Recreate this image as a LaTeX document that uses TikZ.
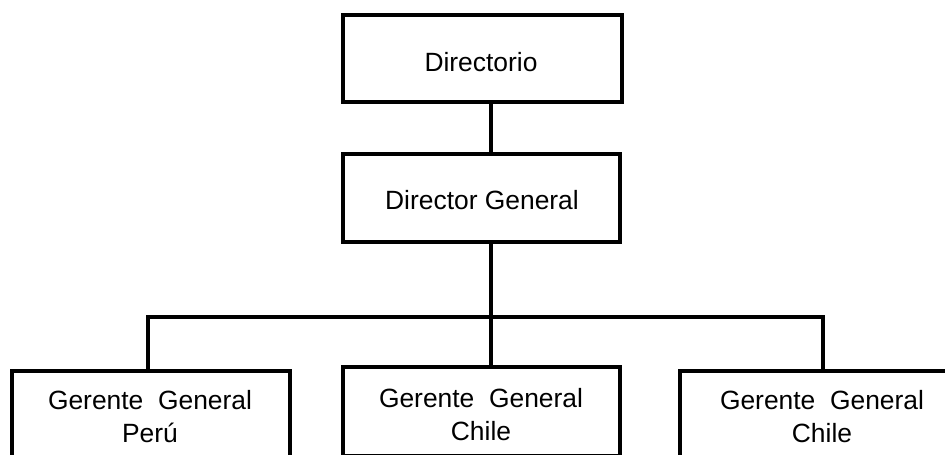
\documentclass[tikz,border=0pt]{standalone}
\usepackage{fontspec}
\setmainfont{Liberation Sans}

\begin{document}
\begin{tikzpicture}[x=1pt,y=-1pt,
  box/.style={draw, line width=3.2pt, rectangle, inner sep=0pt, outer sep=0pt},
  link/.style={draw, line width=3.2pt, line join=miter},
  boxtext/.style={font=\fontsize{26.4}{33}\selectfont, align=center, inner sep=0pt}]
  \useasboundingbox (0,0) rectangle (945,455);
  \clip (0,0) rectangle (945,455);
  % boxes
  \node[box, minimum width=279, minimum height=87] (dir) at (482.5,58.5) {};
  \node[box, minimum width=277, minimum height=88] (dg) at (481.5,198) {};
  \node[box, minimum width=278, minimum height=109] (gp) at (151,425.5) {};
  \node[box, minimum width=277, minimum height=89] (gm) at (481.5,411.5) {};
  \node[box, minimum width=280, minimum height=109] (gr) at (820,425.5) {};
  % texts
  \node[boxtext, anchor=base] (dirt) at (481,71) {Directorio};
  \node[boxtext, anchor=base] (dgt) at (482,209) {Director General};
  \node[boxtext, anchor=north] (gpt) at (150,390) {Gerente\ \ General\\Perú};
  \node[boxtext, anchor=north] (gmt) at (481,388) {Gerente\ \ General\\Chile};
  \node[boxtext, anchor=north] (grt) at (822,390) {Gerente\ \ General\\Chile};
  % connectors
  \coordinate (bus) at (491,317);
  \coordinate (busl) at (148,317);
  \coordinate (busr) at (823,317);
  \draw[link] (dir.south -| bus) -- (dg.north -| bus);
  \draw[link] (dg.south -| bus) -- (gm.north -| bus);
  \draw[link] (gp.north -| busl) -- (busl) -- (busr) -- (gr.north -| busr);
\end{tikzpicture}
\end{document}
